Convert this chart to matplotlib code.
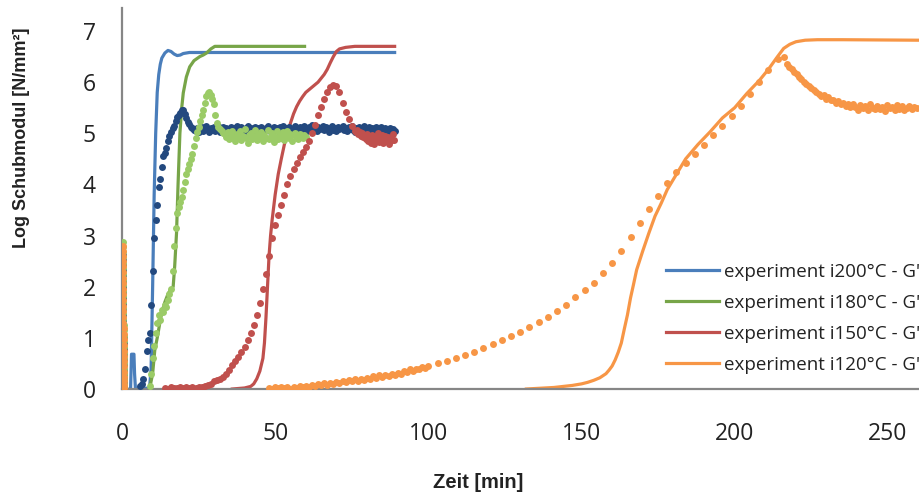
import numpy as np
import matplotlib
matplotlib.use("Agg")
import matplotlib.pyplot as plt

# ---- data ----
labels = ["experiment i200°C - G'", "experiment i180°C - G'",
          "experiment i150°C - G'", "experiment i120°C - G'"]

# G' curves (solid lines)
blue_line_t = [2.6, 2.8, 3.1, 3.3, 3.9, 4.1, 4.4, 9.0, 9.5, 10.0, 10.5, 11.0, 11.5, 12.0, 12.5,
               13.0, 14.0, 15.0, 16.0, 17.0, 18.0, 19.0, 20.0, 22.0, 89.0]
blue_line_y = [0.0, 0.0, 0.68, 0.68, 0.68, 0.3, 0.0, 0.02, 0.4, 2.0, 3.8, 5.0, 5.8, 6.15, 6.35,
               6.47, 6.57, 6.62, 6.60, 6.55, 6.52, 6.53, 6.56, 6.58, 6.58]

green_line_t = [9.0, 10.0, 10.7, 11.5, 12.9, 14.0, 15.1, 16.0, 16.7, 17.2, 17.8, 18.3, 18.9, 19.5,
                20.0, 21.0, 22.1, 23.5, 25.4, 26.5, 27.6, 29.0, 30.3, 59.6]
green_line_y = [0.0, 0.3, 0.76, 1.0, 1.48, 1.7, 1.87, 1.95, 2.0, 2.4, 3.05, 4.0, 5.0, 5.5,
                5.79, 6.1, 6.3, 6.42, 6.5, 6.53, 6.57, 6.65, 6.7, 6.7]

red_line_t = [36, 40, 42, 43, 44, 45, 46, 46.5, 47, 47.5, 48, 48.5, 49, 50, 51, 52, 53, 54, 55,
              56, 57, 58, 59, 60, 62, 64, 66, 67, 68, 69, 70, 71, 73, 76, 89]
red_line_y = [0.0, 0.02, 0.05, 0.1, 0.2, 0.35, 0.6, 0.9, 1.4, 2.0, 2.6, 3.0, 3.3, 3.8, 4.2, 4.5,
              4.78, 5.0, 5.2, 5.38, 5.52, 5.63, 5.72, 5.8, 5.9, 6.0, 6.15, 6.25, 6.38, 6.5, 6.6,
              6.65, 6.68, 6.7, 6.7]

orange_line_t = [132, 135, 138, 141, 144, 147, 150, 152, 154, 156, 158, 159, 160, 161, 162, 163,
                 164, 165, 166, 167, 168, 170, 172, 174, 176, 178, 180, 184, 188, 192, 196, 200,
                 204, 208, 211, 214, 216, 218, 220, 223, 227, 235, 260.5]
orange_line_y = [0.0, 0.01, 0.02, 0.03, 0.05, 0.07, 0.1, 0.13, 0.17, 0.22, 0.3, 0.37, 0.45, 0.57,
                 0.72, 0.9, 1.18, 1.45, 1.78, 2.05, 2.33, 2.7, 3.05, 3.38, 3.63, 3.9, 4.1, 4.5,
                 4.78, 5.03, 5.3, 5.5, 5.78, 6.03, 6.25, 6.5, 6.66, 6.74, 6.79, 6.82, 6.83, 6.83,
                 6.82]

# G'' measurements (dots)
early_t = [0.20, 0.22, 0.24, 0.26, 0.28, 0.30, 0.32, 0.34, 0.36, 0.38, 0.40, 0.42, 0.44, 0.46,
           0.48, 0.50, 0.52, 0.54, 0.56, 0.58, 0.60, 0.62, 0.64, 0.66, 0.68, 0.70, 0.72, 0.74]
green_early = [2.88, 2.78, 2.68, 2.58, 2.47, 2.36, 2.25, 2.14, 2.03, 1.92, 1.81, 1.70, 1.59, 1.48,
               1.37, 1.26, 1.15, 1.04, 0.93, 0.82, 0.71, 0.60, 0.50, 0.40, 0.30, 0.20, 0.10, 0.03]
orange_early = [2.80, 2.70, 2.60, 2.50, 2.40, 2.29, 2.18, 2.07, 1.96, 1.85, 1.74, 1.63, 1.52, 1.41,
                1.30, 1.19, 1.08, 0.97, 0.86, 0.75, 0.64, 0.54, 0.44, 0.34, 0.24, 0.15, 0.07, 0.01]
blue_early = [2.62, 2.52, 2.42, 2.32, 2.22, 2.11, 2.00, 1.89, 1.78, 1.67, 1.56, 1.45, 1.34, 1.23,
              1.12, 1.01, 0.90, 0.79, 0.68, 0.57, 0.47, 0.38, 0.30, 0.22, 0.15, 0.09, 0.04, 0.01]

# blue dots: every 0.5 min from 6 to 89
blue_dot_t = np.arange(6.0, 89.01, 0.5)
blue_dot_y = [0.05, 0.1, 0.2, 0.4, 0.75, 0.95, 1.1, 1.65, 2.3, 2.95,
              3.3, 3.6, 3.95, 4.1, 4.35, 4.55, 4.62, 4.72, 4.85, 4.95,
              5.02, 5.1, 5.15, 5.25, 5.32, 5.36, 5.4, 5.45, 5.45, 5.38,
              5.30, 5.22, 5.18, 5.12, 5.10, 5.07, 5.05, 5.10, 5.03, 5.08,
              5.12, 5.04, 5.09, 5.15, 5.06, 5.02, 5.11, 5.07, 5.13, 5.05,
              5.09, 5.14, 5.03, 5.08, 5.12, 5.06, 5.10, 5.01, 5.09, 5.13,
              5.07, 5.11, 5.04, 5.15, 5.08, 5.05, 5.12, 5.09, 5.03, 5.10,
              5.14, 5.06, 5.11, 5.08, 5.02, 5.13, 5.07, 5.10, 5.05, 5.12,
              5.09, 5.04, 5.11, 5.15, 5.07, 5.02, 5.09, 5.13, 5.06, 5.10,
              5.04, 5.12, 5.08, 5.14, 5.05, 5.10, 5.07, 5.13, 5.09, 5.03,
              5.11, 5.15, 5.06, 5.09, 5.12, 5.04, 5.10, 5.14, 5.08, 5.05,
              5.12, 5.09, 5.16, 5.07, 5.11, 5.04, 5.13, 5.08, 5.10, 5.15,
              5.06, 5.12, 5.09, 5.03, 5.11, 5.14, 5.07, 5.10, 5.05, 5.13,
              5.08, 5.11, 5.15, 5.06, 5.10, 5.04, 5.12, 5.09, 5.14, 5.07,
              5.03, 5.11, 5.08, 5.13, 5.06, 5.10, 5.15, 5.05, 5.09, 5.12,
              5.07, 5.11, 5.04, 5.10, 5.13, 5.08, 5.06, 5.12, 5.09, 5.05,
              5.11, 5.08, 5.03, 5.10, 5.06, 5.09, 5.04]

# green dots: every 0.5 min from 9 to 60
green_dot_t = np.arange(9.0, 60.01, 0.5)
green_dot_y = [0.05, 0.3, 0.6, 0.85, 1.1, 1.3, 1.45, 1.35, 1.55, 1.5,
               1.65, 1.6, 1.75, 1.85, 1.95, 2.3, 2.8, 3.15, 3.45, 3.55,
               3.65, 3.75, 3.9, 4.05, 4.2, 4.3, 4.4, 4.5, 4.6, 4.75,
               4.9, 5.02, 5.12, 5.25, 5.35, 5.45, 5.6, 5.72, 5.78, 5.8,
               5.75, 5.68, 5.58, 5.35, 5.2, 5.12, 5.08, 5.05, 5.0,
               4.98, 4.92, 5.02, 4.88, 4.96, 5.05, 4.90, 4.85, 4.99, 4.93,
               5.04, 4.87, 4.95, 5.08, 4.91, 4.82, 4.97, 5.01, 4.89, 4.94,
               5.06, 4.86, 4.98, 4.92, 5.03, 4.84, 4.96, 4.90, 5.07, 4.88,
               4.95, 5.00, 4.83, 4.93, 5.04, 4.89, 4.97, 4.91, 5.02, 4.86,
               4.94, 5.05, 4.90, 4.98, 4.85, 4.96, 5.01, 4.92, 4.88, 4.99,
               4.94, 4.90, 4.97, 4.93]

# red dots: every 1 min from 14 to 76, then every 0.4 min
red_dot_t = np.concatenate([np.arange(14.0, 76.5, 1.0), np.arange(76.4, 88.9, 0.4)])
red_dot_y = [0.02, 0.0, 0.03, 0.01, 0.02, 0.04, 0.01, 0.03, 0.02, 0.04,
             0.02, 0.04, 0.03, 0.06, 0.08, 0.1, 0.15, 0.18, 0.2, 0.24,
             0.3, 0.38, 0.46, 0.55, 0.63, 0.72, 0.83, 0.95, 1.1, 1.25,
             1.45, 1.68, 1.95, 2.25, 2.6, 2.95, 3.2, 3.4, 3.6, 3.8,
             4.0, 4.17, 4.3, 4.42, 4.53, 4.63, 4.73, 4.85, 5.0, 5.17,
             5.35, 5.52, 5.68, 5.8, 5.9, 5.95, 5.92, 5.8, 5.6, 5.42,
             5.27, 5.15, 5.05,
             5.02, 5.06, 4.98, 5.03, 4.95, 5.00, 4.92, 4.97, 4.88, 4.99,
             4.85, 4.94, 4.82, 4.96, 4.89, 4.80, 4.93, 4.86, 5.00, 4.83,
             4.91, 4.97, 4.81, 4.88, 4.95, 4.84, 4.92, 4.79, 4.90, 4.86,
             4.98, 4.87]

# orange dots: 1 min steps near the baseline, 3 min steps in the rise, 0.8 min after the peak
orange_dot_t = np.concatenate([np.arange(48.0, 100.5, 1.0), np.arange(103.0, 214.5, 3.0),
                               np.arange(216.2, 260.1, 0.8)])
orange_dot_y = [0.01, 0.0, 0.03, 0.01, 0.04, 0.02, 0.03, 0.0, 0.04, 0.02,
                0.05, 0.03, 0.06, 0.04, 0.08, 0.05, 0.09, 0.07, 0.11, 0.08,
                0.12, 0.10, 0.14, 0.11, 0.16, 0.13, 0.17, 0.15, 0.19, 0.16,
                0.20, 0.18, 0.22, 0.20, 0.25, 0.22, 0.27, 0.24, 0.28, 0.26,
                0.30, 0.27, 0.32, 0.30, 0.36, 0.33, 0.39, 0.35, 0.40, 0.39,
                0.43, 0.41, 0.45,
                0.50, 0.55, 0.60, 0.66, 0.73, 0.80, 0.88, 0.95, 1.03, 1.11,
                1.21, 1.31, 1.41, 1.53, 1.65, 1.79, 1.93, 2.08, 2.26, 2.46,
                2.70, 2.97, 3.24, 3.52, 3.78, 4.03, 4.25, 4.42, 4.60, 4.78,
                4.97, 5.15, 5.34, 5.53, 5.77, 6.00, 6.24, 6.45,
                6.49, 6.36, 6.30, 6.25, 6.20, 6.16, 6.10, 6.06, 6.01, 5.97,
                5.92, 5.88, 5.84, 5.80, 5.77, 5.72, 5.74, 5.68, 5.70, 5.65,
                5.66, 5.60, 5.63, 5.57, 5.60, 5.54, 5.57, 5.51, 5.58, 5.52,
                5.46, 5.56, 5.49, 5.53, 5.45, 5.57, 5.50, 5.47, 5.54, 5.48,
                5.52, 5.44, 5.55, 5.49, 5.51, 5.46, 5.56, 5.48, 5.53, 5.45,
                5.50, 5.54, 5.47, 5.52, 5.49]

line_colors = ['#4A7EBB', '#77A548', '#C0504D', '#F79646']
dot_colors = ['#23497F', '#9BCB67', '#C0504D', '#F79646']

plt.rcParams['font.family'] = ['Open Sans', 'DejaVu Sans']

fig = plt.figure(figsize=(9.2, 4.97), dpi=100)
ax = fig.add_axes([122/920, 108/497, 798/920, 381/497])

lines_t = [blue_line_t, green_line_t, red_line_t, orange_line_t]
lines_y = [blue_line_y, green_line_y, red_line_y, orange_line_y]
dots_t = [np.concatenate([early_t, blue_dot_t]), np.concatenate([early_t, green_dot_t]),
          red_dot_t, np.concatenate([early_t, orange_dot_t])]
dots_y = [blue_early + blue_dot_y, green_early + green_dot_y, red_dot_y, orange_early + orange_dot_y]

handles = []
for i in range(4):
    h, = ax.plot(lines_t[i], lines_y[i], '-', color=line_colors[i], lw=2.3, zorder=2)
    handles.append(h)
    ax.plot(dots_t[i], dots_y[i], 'o', color=dot_colors[i], ms=5, mew=0, zorder=3)

ax.set_xlim(0, 260.5)
ax.set_ylim(0, 7.45)
ax.set_xticks([0, 50, 100, 150, 200, 250])
ax.set_yticks(range(8))
ax.xaxis.set_tick_params(length=0, pad=24, labelsize=16.5, labelcolor='#222222')
ax.yaxis.set_tick_params(length=0, pad=19, labelsize=16.5, labelcolor='#222222')
for s in ['top', 'right']:
    ax.spines[s].set_visible(False)
for s in ['left', 'bottom']:
    ax.spines[s].set_color('#868686')
    ax.spines[s].set_linewidth(1.6)

fig.text(478/920, 1 - 483/497, 'Zeit [min]', ha='center', va='center',
         fontsize=14.5, fontweight='bold', family='Liberation Sans', color='#222222')
fig.text(22/920, 1 - 138/497, 'Log Schubmodul [N/mm²]', ha='center', va='center',
         rotation=90, fontsize=13, fontweight='bold', family='Liberation Sans', color='#222222')

leg = ax.legend(handles, labels, loc='upper left', bbox_to_anchor=(666/920, 1 - 263/497),
                bbox_transform=fig.transFigure, frameon=False, fontsize=13.5,
                handlelength=2.85, handletextpad=0.25, labelspacing=0.69,
                borderpad=0, borderaxespad=0)
for t in leg.get_texts():
    t.set_color('#222222')

fig.savefig('out.png', dpi=100)
